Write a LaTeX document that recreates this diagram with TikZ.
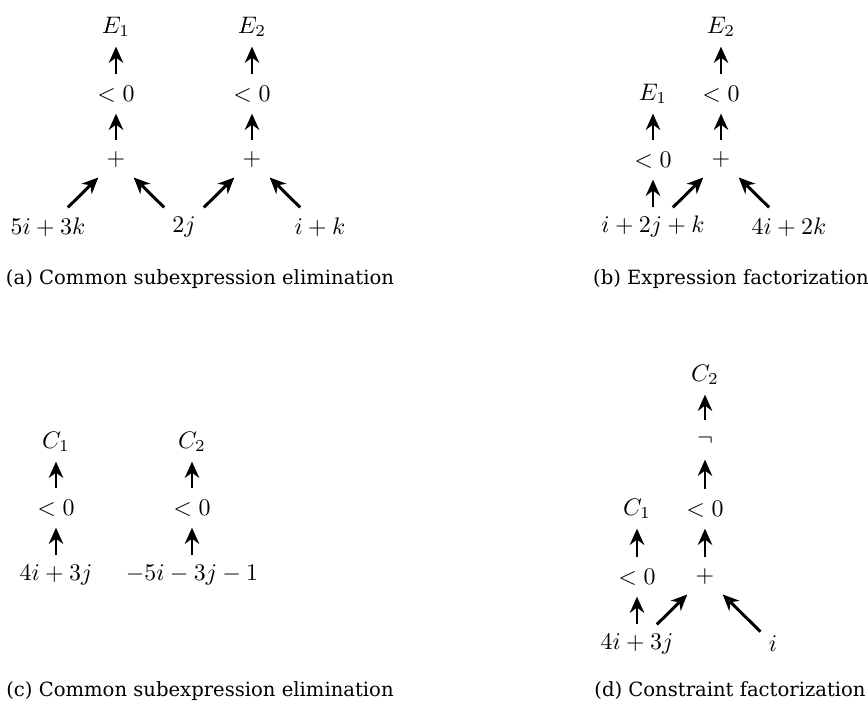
\documentclass[tikz,border=0pt]{standalone}
\usepackage{fontspec}
\newfontfamily\capfont{DejaVu Serif}
\usetikzlibrary{arrows.meta}
\begin{document}
\begin{tikzpicture}[x=0.41842pt,y=-0.41842pt,
  every node/.style={inner sep=3.33pt,minimum height=16pt},
  arr/.style={-{Stealth[length=6.8pt,width=6pt,inset=2.2pt]},line width=1.25pt},
  subcaption/.style={anchor=base,inner sep=0pt,minimum height=0pt,font=\capfont\fontsize{8.2}{10}\selectfont}]
\useasboundingbox (0,0) rectangle (868,702);
% (a)
\node (aE1) at (116,27) {$E_1$};
\node (aL1) at (116,94) {$<0$};
\node (aP1) at (116,160) {$+$};
\node (aE2) at (252,27) {$E_2$};
\node (aL2) at (252,94) {$<0$};
\node (aP2) at (252,160) {$+$};
\node (aA) at (48,227) {$5i+3k$};
\node (aB) at (184,227) {$2j$};
\node (aC) at (320,227) {$i+k$};
\draw[arr] (aL1) -- (aE1);
\draw[arr] (aP1) -- (aL1);
\draw[arr] (aA) -- (aP1);
\draw[arr] (aB) -- (aP1);
\draw[arr] (aB) -- (aP2);
\draw[arr] (aC) -- (aP2);
\draw[arr] (aP2) -- (aL2);
\draw[arr] (aL2) -- (aE2);
\node[subcaption] (capa) at (200,284) {(a) Common subexpression elimination};
% (b)
\node (bE2) at (721,27) {$E_2$};
\node (bL2) at (721,94) {$<0$};
\node (bE1) at (653,94) {$E_1$};
\node (bP) at (721,160) {$+$};
\node (bL1) at (653,160) {$<0$};
\node (bA) at (653,227) {$i+2j+k$};
\node (bB) at (789,227) {$4i+2k$};
\draw[arr] (bA) -- (bL1);
\draw[arr] (bL1) -- (bE1);
\draw[arr] (bA) -- (bP);
\draw[arr] (bB) -- (bP);
\draw[arr] (bP) -- (bL2);
\draw[arr] (bL2) -- (bE2);
\node[subcaption] (capb) at (731,284) {(b) Expression factorization};
% (c)
\node (cC1) at (56,442) {$C_1$};
\node (cL1) at (56,508) {$<0$};
\node (cA) at (56,575) {$4i+3j$};
\node (cC2) at (192,442) {$C_2$};
\node (cL2) at (192,508) {$<0$};
\node (cB) at (192,575) {$-5i-3j-1$};
\draw[arr] (cA) -- (cL1);
\draw[arr] (cL1) -- (cC1);
\draw[arr] (cB) -- (cL2);
\draw[arr] (cL2) -- (cC2);
\node[subcaption] (capc) at (200,696) {(c) Common subexpression elimination};
% (d)
\node (dC2) at (705,375) {$C_2$};
\node (dN) at (705,440) {$\neg$};
\node (dL2) at (705,509) {$<0$};
\node (dC1) at (637,509) {$C_1$};
\node (dP) at (705,577) {$+$};
\node (dL1) at (637,577) {$<0$};
\node (dA) at (637,644) {$4i+3j$};
\node (dB) at (773,644) {$i$};
\draw[arr] (dA) -- (dL1);
\draw[arr] (dL1) -- (dC1);
\draw[arr] (dA) -- (dP);
\draw[arr] (dB) -- (dP);
\draw[arr] (dP) -- (dL2);
\draw[arr] (dL2) -- (dN);
\draw[arr] (dN) -- (dC2);
\node[subcaption] (capd) at (730,696) {(d) Constraint factorization};
\end{tikzpicture}
\end{document}
